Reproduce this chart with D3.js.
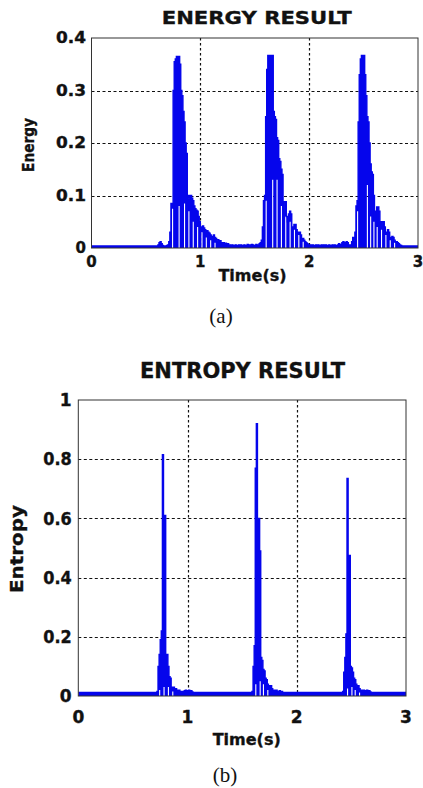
<!DOCTYPE html>
<html><head><meta charset="utf-8">
<script src="https://cdn.jsdelivr.net/npm/d3@7/dist/d3.min.js"></script>
<style>
html,body{margin:0;padding:0;background:#fff;}
svg{display:block;}
</style></head><body>
<svg id="chart" width="423" height="788"></svg>
<script>
// ---------- data ----------
const timeStep = 0.01; // seconds between samples, t = 0 .. 3
const energyValues = [
0.004,0.004,0.004,0.004,0.004,0.004,0.004,0.004,0.004,0.004,
0.004,0.004,0.004,0.004,0.004,0.004,0.004,0.004,0.004,0.004,
0.004,0.004,0.004,0.004,0.004,0.004,0.004,0.004,0.004,0.004,
0.004,0.004,0.004,0.004,0.004,0.004,0.004,0.004,0.004,0.004,
0.004,0.004,0.004,0.004,0.004,0.004,0.004,0.004,0.004,0.004,
0.004,0.004,0.004,0.004,0.004,0.004,0.004,0.004,0.004,0.004,
0.004,0.006,0.010,0.012,0.008,0.005,0.004,0.004,0.004,0.005,
0.006,0.012,0.030,0.085,0.085,0.300,0.355,0.360,0.365,0.365,
0.365,0.350,0.300,0.290,0.260,0.240,0.200,0.180,0.100,0.095,
0.100,0.100,0.095,0.090,0.080,0.075,0.072,0.070,0.060,0.050,
0.040,0.040,0.042,0.038,0.035,0.030,0.033,0.030,0.028,0.025,
0.022,0.022,0.025,0.020,0.018,0.015,0.016,0.012,0.014,0.010,
0.008,0.010,0.007,0.009,0.006,0.008,0.005,0.006,0.005,0.006,
0.005,0.004,0.006,0.005,0.004,0.006,0.005,0.006,0.004,0.005,
0.006,0.004,0.005,0.007,0.005,0.006,0.004,0.007,0.006,0.005,
0.005,0.007,0.005,0.006,0.008,0.010,0.015,0.040,0.090,0.100,
0.250,0.340,0.367,0.367,0.367,0.367,0.367,0.260,0.250,0.245,
0.210,0.205,0.170,0.165,0.150,0.140,0.070,0.088,0.088,0.060,
0.050,0.065,0.070,0.065,0.040,0.038,0.045,0.045,0.035,0.028,
0.030,0.030,0.025,0.015,0.018,0.015,0.012,0.010,0.008,0.006,
0.005,0.006,0.004,0.006,0.005,0.004,0.006,0.005,0.006,0.004,
0.005,0.006,0.004,0.006,0.005,0.006,0.004,0.005,0.006,0.005,
0.004,0.006,0.005,0.006,0.004,0.005,0.006,0.008,0.006,0.007,
0.010,0.012,0.008,0.010,0.012,0.010,0.006,0.005,0.006,0.012,
0.020,0.015,0.030,0.080,0.090,0.240,0.330,0.360,0.367,0.367,
0.367,0.330,0.290,0.250,0.240,0.200,0.160,0.145,0.140,0.100,
0.060,0.070,0.078,0.078,0.070,0.050,0.045,0.050,0.050,0.040,
0.030,0.030,0.035,0.030,0.020,0.020,0.022,0.020,0.015,0.012,
0.012,0.010,0.008,0.006,0.005,0.004,0.004,0.004,0.004,0.004,
0.004,0.004,0.004,0.004,0.004,0.004,0.004,0.004,0.004,0.004,
0.004];
const energyGapTimes  = [0.74,0.80,0.85,0.89,0.93,0.97,1.01,1.05,1.09,1.13,
                         1.60,1.66,1.70,1.74,1.78,1.82,1.86,1.90,1.94,
                         2.44,2.53,2.56,2.59,2.62,2.66,2.70,2.74,2.78];
const energyGapLevels = [0.075,0.08,0.085,0.07,0.05,0.04,0.03,0.02,0.015,0.01,
                         0.09,0.13,0.13,0.08,0.06,0.05,0.035,0.025,0.012,
                         0.07,0.12,0.06,0.05,0.04,0.035,0.025,0.015,0.01];

const entropyValues = [
0.012,0.012,0.012,0.012,0.012,0.012,0.012,0.012,0.012,0.012,
0.012,0.012,0.012,0.012,0.012,0.012,0.012,0.012,0.012,0.012,
0.012,0.012,0.012,0.012,0.012,0.012,0.012,0.012,0.012,0.012,
0.012,0.012,0.012,0.012,0.012,0.012,0.012,0.012,0.012,0.012,
0.012,0.012,0.012,0.012,0.012,0.012,0.012,0.012,0.012,0.012,
0.012,0.012,0.012,0.012,0.012,0.012,0.012,0.012,0.012,0.012,
0.012,0.012,0.012,0.012,0.012,0.012,0.012,0.012,0.012,0.012,
0.012,0.012,0.015,0.100,0.140,0.190,0.220,0.815,0.610,0.610,
0.140,0.140,0.100,0.065,0.060,0.030,0.025,0.030,0.020,0.025,
0.020,0.015,0.020,0.015,0.012,0.015,0.012,0.018,0.020,0.015,
0.018,0.020,0.015,0.018,0.014,0.012,0.012,0.012,0.012,0.012,
0.012,0.012,0.012,0.012,0.012,0.012,0.012,0.012,0.012,0.012,
0.012,0.012,0.012,0.012,0.012,0.012,0.012,0.012,0.012,0.012,
0.012,0.012,0.012,0.012,0.012,0.012,0.012,0.012,0.012,0.012,
0.012,0.012,0.012,0.012,0.012,0.012,0.012,0.012,0.012,0.012,
0.012,0.012,0.012,0.012,0.012,0.012,0.012,0.012,0.012,0.015,
0.100,0.170,0.770,0.920,0.600,0.600,0.490,0.130,0.120,0.090,
0.085,0.060,0.055,0.040,0.035,0.030,0.035,0.025,0.020,0.020,
0.015,0.020,0.015,0.012,0.018,0.012,0.015,0.012,0.012,0.012,
0.012,0.012,0.012,0.012,0.012,0.012,0.012,0.012,0.012,0.012,
0.012,0.012,0.012,0.012,0.012,0.012,0.012,0.012,0.012,0.012,
0.012,0.012,0.012,0.012,0.012,0.012,0.012,0.012,0.012,0.012,
0.012,0.012,0.012,0.012,0.012,0.012,0.012,0.012,0.012,0.012,
0.012,0.012,0.012,0.012,0.012,0.012,0.012,0.012,0.012,0.012,
0.012,0.012,0.015,0.080,0.130,0.210,0.735,0.475,0.475,0.100,
0.095,0.080,0.060,0.055,0.040,0.030,0.035,0.025,0.015,0.020,
0.015,0.020,0.015,0.018,0.020,0.015,0.018,0.014,0.012,0.012,
0.012,0.012,0.012,0.012,0.012,0.012,0.012,0.012,0.012,0.012,
0.012,0.012,0.012,0.012,0.012,0.012,0.012,0.012,0.012,0.012,
0.012,0.012,0.012,0.012,0.012,0.012,0.012,0.012,0.012,0.012,
0.012];
const entropyGapTimes  = [0.74,0.78,0.82,0.86, 1.62,1.66,1.69,1.73, 2.46,2.50,2.53,2.57];
const entropyGapLevels = [0.02,0.03,0.03,0.015, 0.04,0.05,0.04,0.02, 0.025,0.03,0.02,0.012];

const xTicks = [0, 1, 2, 3];
const xTickLabels = ["0", "1", "2", "3"];
const xGridTicks = [1, 2];
const energyTicks = [0, 0.1, 0.2, 0.3, 0.4];
const energyTickLabels = ["0", "0.1", "0.2", "0.3", "0.4"];
const entropyTicks = [0, 0.2, 0.4, 0.6, 0.8, 1];
const entropyTickLabels = ["0", "0.2", "0.4", "0.6", "0.8", "1"];
const titles = ["ENERGY RESULT", "ENTROPY RESULT"];
const xLabel = "Time(s)";
const yLabels = ["Energy", "Entropy"];
const captions = ["(a)", "(b)"];

// ---------- drawing ----------
const svg = d3.select("#chart");
const FONT = "'DejaVu Sans', 'Liberation Sans', Arial, sans-serif";
const BLUE = "#0505ec";
const INK = "#111";

function buildSeries(values, gapTimes, gapLevels) {
  const gaps = new Map(gapTimes.map((t, i) => [Math.round(t / timeStep), gapLevels[i]]));
  return values.map((v, i) => ({ t: i * timeStep, hi: v, lo: gaps.has(i) ? gaps.get(i) : 0 }));
}

function boldText(sel, size) {
  return sel.attr("font-family", FONT).attr("font-weight", "bold")
    .attr("font-size", size).attr("fill", INK)
    .attr("stroke", INK).attr("stroke-width", 0.35);
}

function drawPanel(cfg) {
  const g = svg.append("g");
  const x = d3.scaleLinear().domain([0, 3]).range([cfg.left, cfg.right]);
  const y = d3.scaleLinear().domain([0, cfg.yMax]).range([cfg.bottom, cfg.top]);

  // grid
  g.append("g").selectAll("line").data(cfg.yTicks.filter(v => v > 0 && v < cfg.yMax)).join("line")
    .attr("x1", cfg.left).attr("x2", cfg.right)
    .attr("y1", d => Math.round(y(d)) + 0.5).attr("y2", d => Math.round(y(d)) + 0.5)
    .attr("stroke", "#111").attr("stroke-width", 1.2).attr("stroke-dasharray", "3,2.5");
  g.append("g").selectAll("line").data(xGridTicks).join("line")
    .attr("x1", d => Math.round(x(d)) + 0.5).attr("x2", d => Math.round(x(d)) + 0.5)
    .attr("y1", cfg.top).attr("y2", cfg.bottom)
    .attr("stroke", "#111").attr("stroke-width", 1.2).attr("stroke-dasharray", "2.5,2.5");

  // data
  const clipId = "clip" + cfg.id;
  g.append("clipPath").attr("id", clipId).append("rect")
    .attr("x", cfg.left).attr("y", cfg.top - 2).attr("width", cfg.right - cfg.left).attr("height", cfg.bottom - cfg.top + 2);
  const series = buildSeries(cfg.values, cfg.gapTimes, cfg.gapLevels);
  const area = d3.area().x(d => x(d.t)).y0(d => y(d.lo)).y1(d => y(d.hi)).curve(d3.curveStepAfter);
  const line = d3.line().x(d => x(d.t)).y(d => y(d.hi)).curve(d3.curveStepAfter);
  const dg = g.append("g").attr("clip-path", `url(#${clipId})`);
  dg.append("path").datum(series).attr("d", area).attr("fill", BLUE);
  dg.append("path").datum(series).attr("d", line).attr("fill", "none")
    .attr("stroke", BLUE).attr("stroke-width", 1.4);

  // frame
  g.append("rect").attr("x", cfg.left).attr("y", cfg.top)
    .attr("width", cfg.right - cfg.left).attr("height", cfg.bottom - cfg.top)
    .attr("fill", "none").attr("stroke", "#333").attr("stroke-width", 1);

  // tick labels
  boldText(g.append("g").selectAll("text").data(xTicks).join("text"), cfg.tickSize)
    .attr("x", d => x(d)).attr("y", cfg.xTickBaseline)
    .attr("text-anchor", "middle")
    .text((d, i) => xTickLabels[i]);
  boldText(g.append("g").selectAll("text").data(cfg.yTicks).join("text"), cfg.tickSize)
    .attr("x", cfg.yTickRight).attr("y", d => y(d) + cfg.tickSize * 0.36)
    .attr("text-anchor", "end")
    .each(function (d, i) {
      const lbl = cfg.yTickLabels[i];
      const t = d3.select(this).text(lbl);
      if (lbl.length > 1) t.attr("textLength", cfg.yTickLen).attr("lengthAdjust", "spacingAndGlyphs");
    });

  // title
  boldText(g.append("text"), cfg.titleSize).attr("x", cfg.titleX).attr("y", cfg.titleY)
    .attr("text-anchor", "middle")
    .attr("textLength", cfg.titleLen).attr("lengthAdjust", "spacingAndGlyphs")
    .text(cfg.title);
  // x label
  boldText(g.append("text"), 16).attr("x", cfg.xLabelX).attr("y", cfg.xLabelY)
    .attr("text-anchor", "middle").text(xLabel);
  // y label
  boldText(g.append("text"), cfg.yLabelSize)
    .attr("transform", `translate(${cfg.yLabelX},${cfg.yLabelY}) rotate(-90)`)
    .attr("text-anchor", "middle")
    .attr("textLength", cfg.yLabelLen).attr("lengthAdjust", "spacingAndGlyphs")
    .text(cfg.yLabel);
  // caption
  g.append("text").attr("x", cfg.capX).attr("y", cfg.capY)
    .attr("text-anchor", "middle").attr("font-family", "'Liberation Serif', 'Times New Roman', serif")
    .attr("font-size", 21).attr("fill", INK)
    .text(cfg.caption);
}

drawPanel({
  id: "a", left: 91.5, right: 418, top: 38, bottom: 248, yMax: 0.4,
  values: energyValues, gapTimes: energyGapTimes, gapLevels: energyGapLevels,
  yTicks: energyTicks, yTickLabels: energyTickLabels,
  tickSize: 15, xTickBaseline: 267, yTickRight: 86, yTickLen: 30,
  title: titles[0], titleX: 256.7, titleY: 24, titleSize: 18, titleLen: 190,
  xLabelX: 252.5, xLabelY: 280.5,
  yLabel: yLabels[0], yLabelX: 34, yLabelY: 145, yLabelSize: 15, yLabelLen: 54,
  caption: captions[0], capX: 221, capY: 323
});
drawPanel({
  id: "b", left: 78.3, right: 406, top: 400, bottom: 696, yMax: 1,
  values: entropyValues, gapTimes: entropyGapTimes, gapLevels: entropyGapLevels,
  yTicks: entropyTicks, yTickLabels: entropyTickLabels,
  tickSize: 17, xTickBaseline: 723, yTickRight: 71.7, yTickLen: 28.5,
  title: titles[1], titleX: 242.5, titleY: 378.3, titleSize: 22, titleLen: 205,
  xLabelX: 246.7, xLabelY: 745,
  yLabel: yLabels[1], yLabelX: 23, yLabelY: 549, yLabelSize: 18, yLabelLen: 88,
  caption: captions[1], capX: 225, capY: 782
});
</script>
</body></html>
